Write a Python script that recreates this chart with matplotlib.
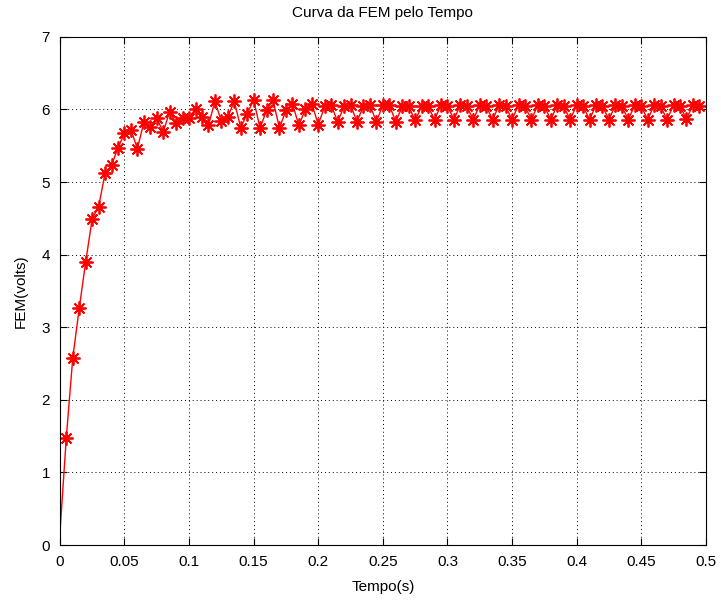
import numpy as np
import matplotlib
matplotlib.use("Agg")
import matplotlib.pyplot as plt

plt.rcParams['font.family'] = ['Liberation Sans', 'DejaVu Sans']

# amostras a cada 5 ms (a primeira, em t=0, sem marcador)
dt = 0.005
fem = [0.15,
       1.48, 2.58, 3.26, 3.90, 4.49, 4.66, 5.12, 5.23, 5.47, 5.67,
       5.72, 5.46, 5.82, 5.76, 5.88, 5.69, 5.97, 5.81, 5.88, 5.88,
       6.01, 5.89, 5.78, 6.11, 5.84, 5.90, 6.11, 5.75, 5.94, 6.13,
       5.74, 5.99, 6.13, 5.74, 5.99, 6.08, 5.78, 6.00, 6.08, 5.79,
       6.04, 6.06, 5.83, 6.04, 6.06, 5.83, 6.05, 6.06, 5.83, 6.06,
       6.06, 5.83, 6.04, 6.04, 5.85, 6.04, 6.04, 5.86, 6.06, 6.05,
       5.86, 6.06, 6.04, 5.86, 6.06, 6.04, 5.86, 6.06, 6.04, 5.86,
       6.06, 6.04, 5.86, 6.06, 6.04, 5.86, 6.06, 6.04, 5.86, 6.06,
       6.04, 5.86, 6.06, 6.04, 5.86, 6.06, 6.04, 5.86, 6.06, 6.04,
       5.86, 6.06, 6.04, 5.86, 6.06, 6.04, 5.87, 6.06, 6.04]
tempo = np.arange(len(fem)) * dt

xticks = [0, 0.05, 0.1, 0.15, 0.2, 0.25, 0.3, 0.35, 0.4, 0.45, 0.5]
xlabels = ['0', '0.05', '0.1', '0.15', '0.2', '0.25', '0.3', '0.35', '0.4', '0.45', '0.5']
yticks = [0, 1, 2, 3, 4, 5, 6, 7]

fig = plt.figure(figsize=(7.21, 6.03), dpi=100)
ax = fig.add_axes([0.083, 0.096, 0.896, 0.843])

# asterisco estilo MATLAB: '+' e 'x' sobrepostos
ax.plot(tempo, fem, color='red', lw=1.0, marker=(8, 2, 0), markersize=10,
        markeredgewidth=1.3, markevery=list(range(1, len(fem))))

ax.set_xlim(0, 0.5)
ax.set_ylim(0, 7)
ax.set_xticks(xticks)
ax.set_xticklabels(xlabels)
ax.set_yticks(yticks)
ax.tick_params(direction='in', top=True, right=True, length=5, labelsize=11, pad=7)
ax.grid(True, color='black', linestyle=(0, (1, 3)), linewidth=0.7)
for s in ax.spines.values():
    s.set_linewidth(0.8)

ax.set_title('Curva da FEM pelo Tempo', fontsize=11, pad=14)
ax.set_xlabel('Tempo(s)', fontsize=11, labelpad=8)
ax.set_ylabel('FEM(volts)', fontsize=11, labelpad=10)

fig.savefig('out.png', dpi=100)
